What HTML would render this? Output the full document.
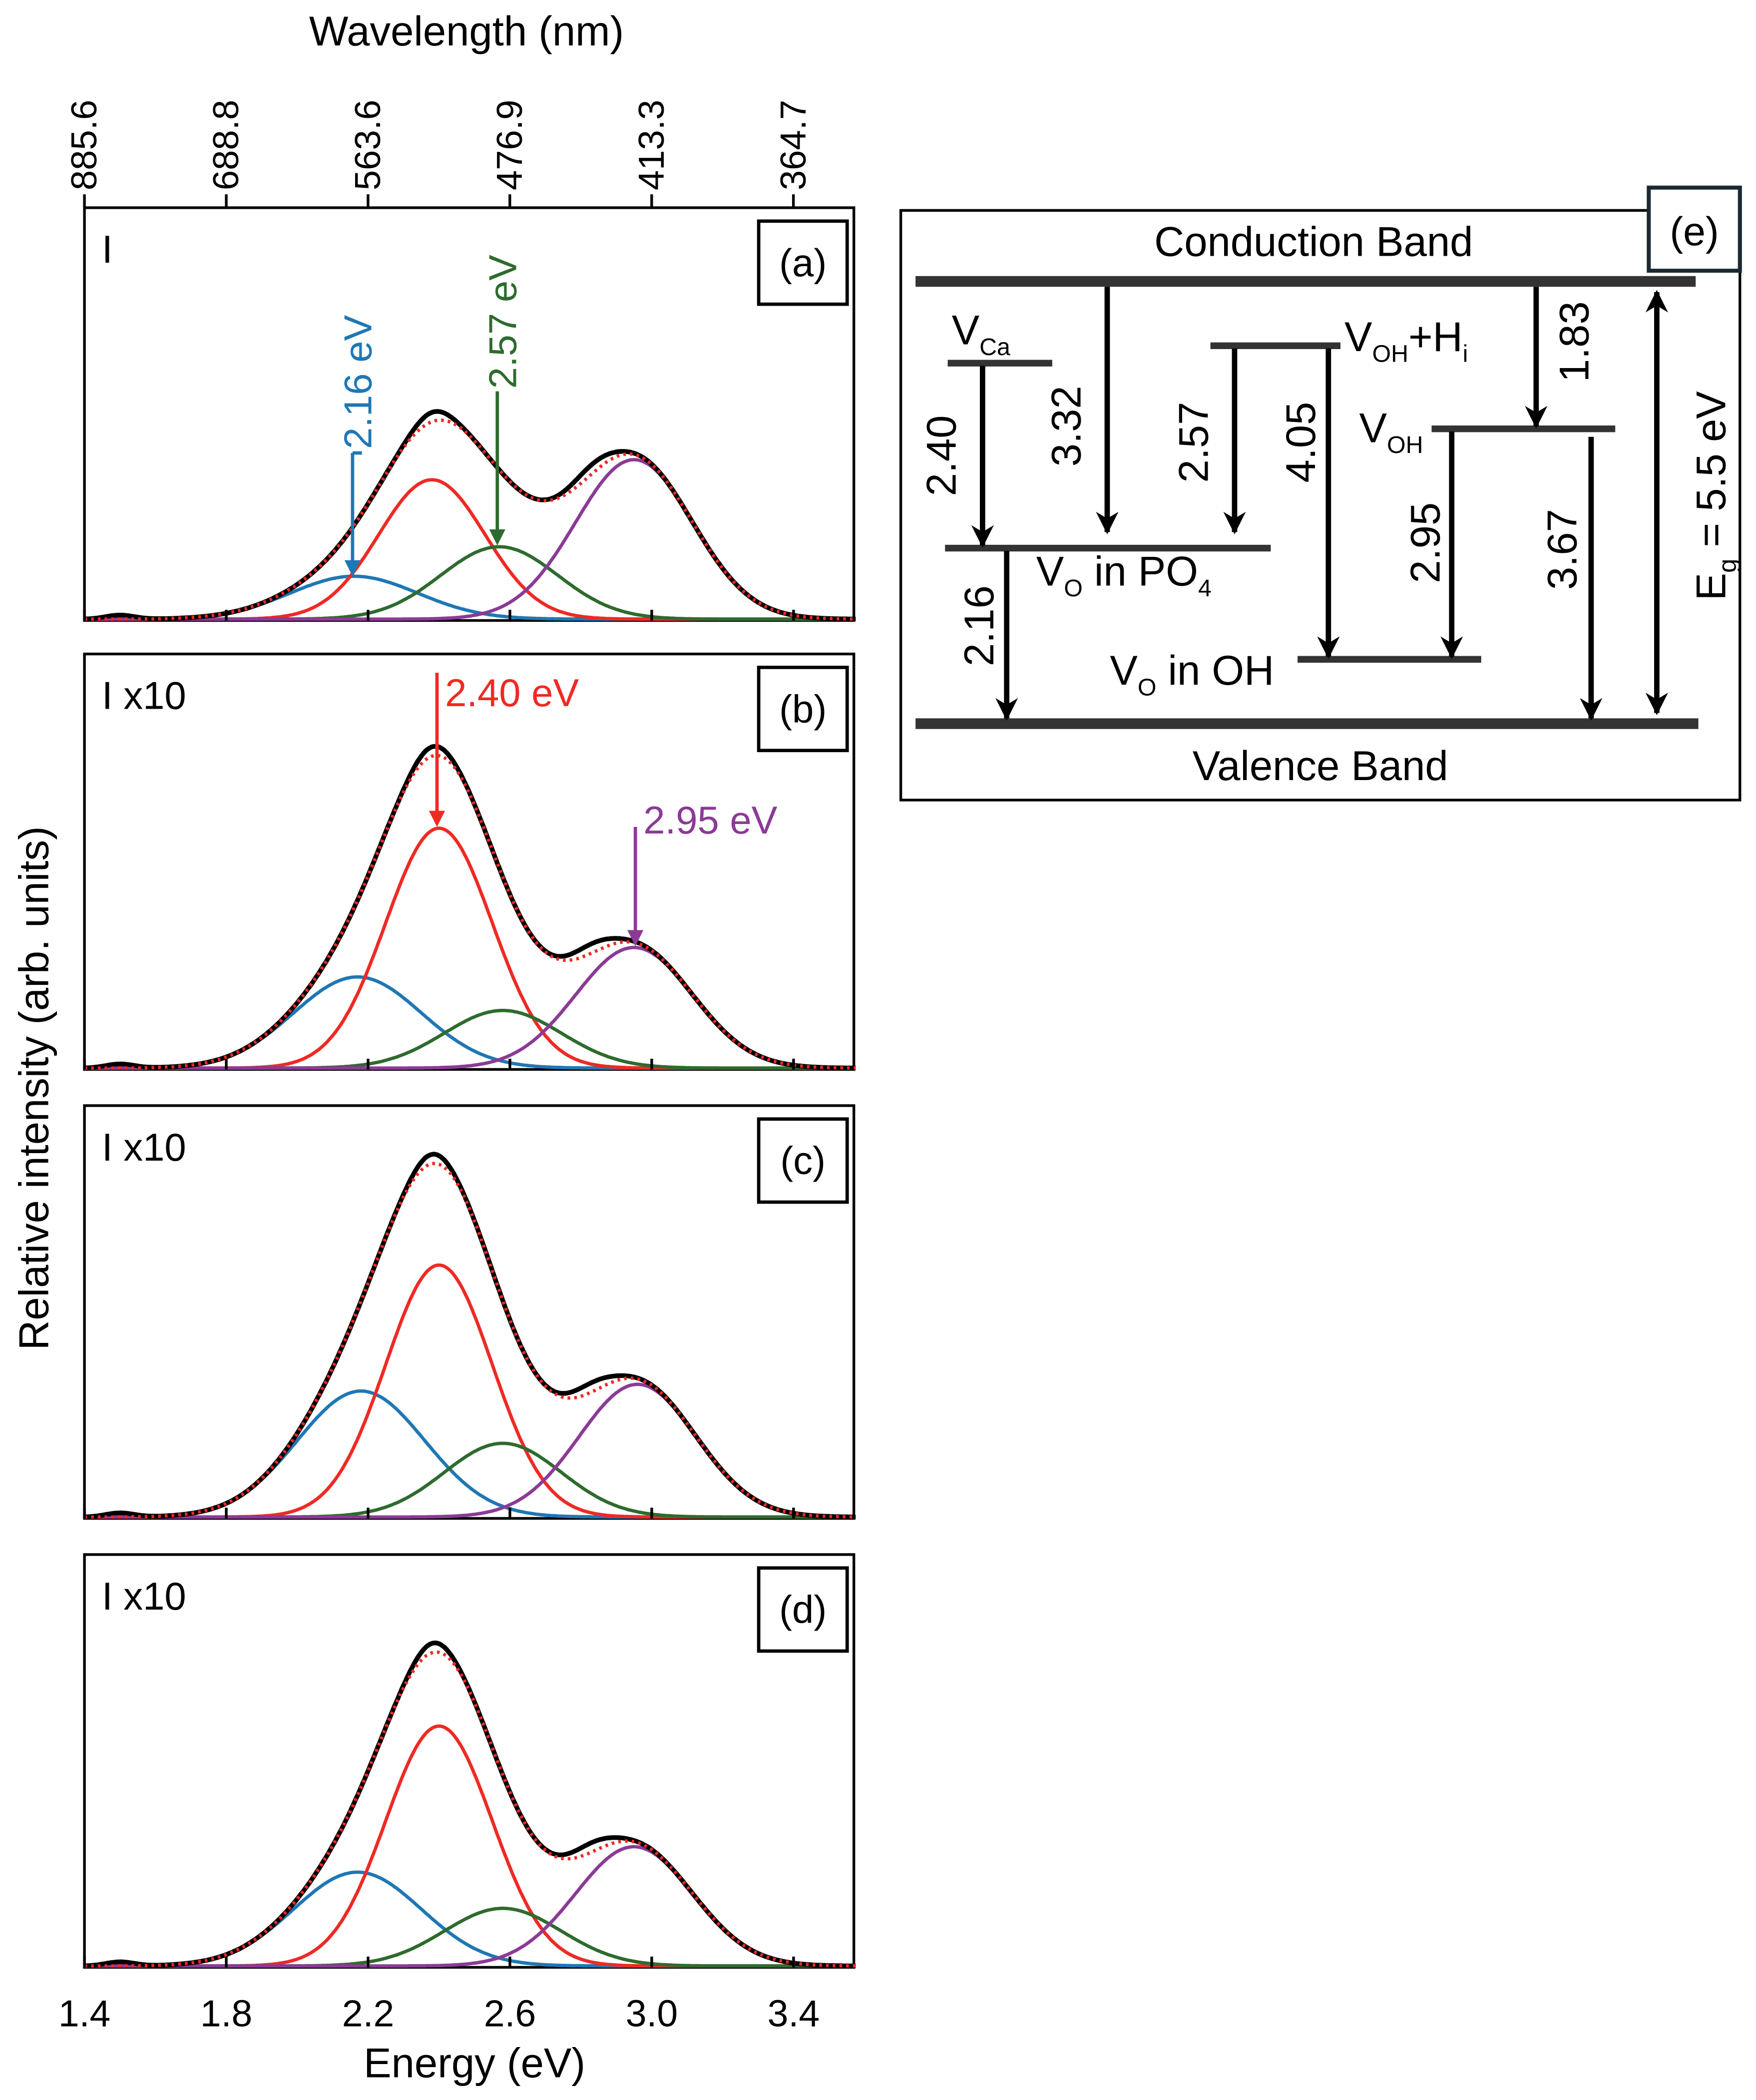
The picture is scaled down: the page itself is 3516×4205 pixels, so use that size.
<!DOCTYPE html>
<html><head><meta charset="utf-8"><style>
html,body{margin:0;padding:0;background:#fff}
svg{display:block}
text{font-family:"Liberation Sans",sans-serif}
</style></head><body>
<svg id="fig" width="3516" height="4205" viewBox="0 0 1310 1567" preserveAspectRatio="none" xmlns="http://www.w3.org/2000/svg">
<defs>
<marker id="ah" viewBox="0 0 10 10" refX="9" refY="5" markerWidth="4.2" markerHeight="4.2" orient="auto-start-reverse"><path d="M0,0 L10,5 L0,10 L3,5 z" fill="#000"/></marker>
</defs>
<g id="spectra"></g>
<g id="diagram" font-size="31">
<rect x="672" y="157" width="626" height="440" fill="none" stroke="#000" stroke-width="2"/>
<rect x="1230" y="140" width="68" height="62" fill="#fff" stroke="#1a2a33" stroke-width="3"/>
<text x="1264" y="183" text-anchor="middle" font-size="30">(e)</text>
<text x="980" y="191" text-anchor="middle">Conduction Band</text>
<text x="985" y="582" text-anchor="middle">Valence Band</text>
<g stroke="#333" fill="none">
<line x1="683" y1="210" x2="1265" y2="210" stroke-width="8"/>
<line x1="683" y1="540" x2="1267" y2="540" stroke-width="8"/>
<line x1="707" y1="271" x2="785" y2="271" stroke-width="5"/>
<line x1="705" y1="409" x2="948" y2="409" stroke-width="5"/>
<line x1="903" y1="258" x2="1000" y2="258" stroke-width="5"/>
<line x1="1068" y1="320" x2="1205" y2="320" stroke-width="5"/>
<line x1="968" y1="492" x2="1105" y2="492" stroke-width="5"/>
</g>
<g stroke="#000" stroke-width="4" marker-end="url(#ah)">
<line x1="733" y1="273" x2="733" y2="407"/>
<line x1="826" y1="214" x2="826" y2="397"/>
<line x1="921" y1="260" x2="921" y2="397"/>
<line x1="991" y1="260" x2="991" y2="490"/>
<line x1="1146" y1="214" x2="1146" y2="318"/>
<line x1="1083" y1="322" x2="1083" y2="490"/>
<line x1="1187" y1="326" x2="1187" y2="536"/>
<line x1="751" y1="411" x2="751" y2="536"/>
<line x1="1236" y1="218" x2="1236" y2="532" marker-start="url(#ah)"/>
</g>
<g font-size="31">
<text transform="translate(713,340) rotate(-90)" text-anchor="middle">2.40</text>
<text transform="translate(806,318) rotate(-90)" text-anchor="middle">3.32</text>
<text transform="translate(901,330) rotate(-90)" text-anchor="middle">2.57</text>
<text transform="translate(981,330) rotate(-90)" text-anchor="middle">4.05</text>
<text transform="translate(1185,255) rotate(-90)" text-anchor="middle">1.83</text>
<text transform="translate(1074,405) rotate(-90)" text-anchor="middle">2.95</text>
<text transform="translate(1176,410) rotate(-90)" text-anchor="middle">3.67</text>
<text transform="translate(741,467) rotate(-90)" text-anchor="middle">2.16</text>
<text transform="translate(1287,370) rotate(-90)" text-anchor="middle">E<tspan font-size="19" dy="8">g</tspan><tspan dy="-8"> = 5.5 eV</tspan></text>
<text x="710" y="257">V<tspan font-size="18" dy="8">Ca</tspan></text>
<text x="1003" y="262">V<tspan font-size="18" dy="8">OH</tspan><tspan dy="-8">+H</tspan><tspan font-size="18" dy="8">i</tspan></text>
<text x="1014" y="330">V<tspan font-size="18" dy="8">OH</tspan></text>
<text x="773" y="437">V<tspan font-size="18" dy="8">O</tspan><tspan dy="-8"> in PO</tspan><tspan font-size="18" dy="8">4</tspan></text>
<text x="828" y="511">V<tspan font-size="18" dy="8">O</tspan><tspan dy="-8"> in OH</tspan></text>
</g>
</g>
</svg>
<script>
// Axis data
const energyTicks = [1.4, 1.8, 2.2, 2.6, 3.0, 3.4];
const energyTickLabels = ["1.4", "1.8", "2.2", "2.6", "3.0", "3.4"];
const wavelengthTicks = [885.6, 688.8, 563.6, 476.9, 413.3, 364.7];
const panelIds = ["a", "b", "c", "d"];
const panelTags = ["I", "I x10", "I x10", "I x10"];
// Gaussian components per panel: centers (eV), heights (relative)
const blueCenters = [2.16, 2.17, 2.18, 2.17];
const blueHeights = [32, 68, 94, 70];
const redCenters = [2.38, 2.40, 2.40, 2.40];
const redHeights = [104, 179, 188, 179];
const greenCenters = [2.57, 2.58, 2.58, 2.58];
const greenHeights = [54, 43, 55, 43];
const purpleCenters = [2.95, 2.95, 2.96, 2.95];
const purpleHeights = [119, 90, 99, 89];
// widths (eV) per component: blue, red, green, purple
const componentSigmas = [0.18, 0.15, 0.165, 0.165];

const NS = "http://www.w3.org/2000/svg";
const g = document.getElementById("spectra");
const X0 = 63, X1 = 637;
const xE = e => 63 + (e - 1.4) * (592 - 63) / 2.0;
const panelTop = [155, 488, 825, 1160], panelBot = [463, 798, 1133, 1468];
function mk(tag, attrs, parent) { const el = document.createElementNS(NS, tag); for (const k in attrs) el.setAttribute(k, attrs[k]); (parent || g).appendChild(el); return el; }
function gauss(e, c, h, s) { return h * Math.exp(-0.5 * ((e - c) / s) ** 2); }

panelIds.forEach((id, i) => {
  const top = panelTop[i], base = panelBot[i] - 1;
  const pg = mk("g", {});
  
  
  const fr = mk("rect", { x: X0, y: top, width: X1 - X0, height: panelBot[i] - top, fill: "none", stroke: "#000", "stroke-width": 2 }, pg);
  
  
  const comps = [[blueCenters, blueHeights, "#1f77b4"], [redCenters, redHeights, "#ee2a24"], [greenCenters, greenHeights, "#2e6b2e"], [purpleCenters, purpleHeights, "#8b3a96"]];
  const names = ["blue", "red", "green", "purple"];
  const tot = [], meas = [];
  for (let e = 1.4; e <= 3.575; e += 0.005) {
    let s = 0; comps.forEach((c, k) => s += gauss(e, c[0][i], c[1][i], componentSigmas[k]));
    tot.push([xE(e), base - s]);
    let m = s + gauss(e, 1.5, 3, 0.04) + gauss(e, 2.38, 7, 0.05) + gauss(e, 2.83, 7, 0.06);
    meas.push([xE(e), base - m]);
  }
  comps.forEach((c, k) => {
    let d = "";
    for (let e = 1.4; e <= 3.575; e += 0.005) d += (d ? "L" : "M") + xE(e).toFixed(1) + "," + (base - gauss(e, c[0][i], c[1][i], componentSigmas[k])).toFixed(1);
    const p = mk("path", { d, fill: "none", stroke: c[2], "stroke-width": 2.5 }, pg);
    
    
  });
  const pm = mk("path", { d: "M" + meas.map(p => p[0].toFixed(1) + "," + p[1].toFixed(1)).join("L"), fill: "none", stroke: "#000", "stroke-width": 3.5 }, pg);
  
  
  const pf = mk("path", { d: "M" + tot.map(p => p[0].toFixed(1) + "," + p[1].toFixed(1)).join("L"), fill: "none", stroke: "#ee2a24", "stroke-width": 2.5, "stroke-dasharray": "2 3" }, pg);
  
  
  const lb = mk("rect", { x: 566, y: top + 10, width: 66, height: 62, fill: "#fff", stroke: "#000", "stroke-width": 2.5 }, pg);
  
  
  const lt = mk("text", { x: 599, y: top + 51, "text-anchor": "middle", "font-size": 29 }, pg);
  lt.textContent = "(" + id + ")";
  
  
  const tg = mk("text", { x: 76, y: top + 41, "font-size": 29 }, pg);
  tg.textContent = panelTags[i];
  
  
  energyTicks.forEach(t => {
    const tk = mk("line", { x1: xE(t), x2: xE(t), y1: panelBot[i], y2: panelBot[i] - 8, stroke: "#000", "stroke-width": 2 }, pg);
    
    
  });
});
energyTicks.forEach((t, k) => {
  const tx = mk("text", { x: xE(t), y: 1512, "text-anchor": "middle", "font-size": 28 });
  tx.textContent = energyTickLabels[k];
  
  
});
const xt = mk("text", { x: 354, y: 1550, "text-anchor": "middle", "font-size": 31 });
xt.textContent = "Energy (eV)";


const yt = mk("text", { transform: "translate(36,812) rotate(-90)", "text-anchor": "middle", "font-size": 31 });
yt.textContent = "Relative intensity (arb. units)";


wavelengthTicks.forEach(w => {
  const x = xE(1239.84 / w);
  const tk = mk("line", { x1: x, x2: x, y1: 155, y2: 145, stroke: "#000", "stroke-width": 2 });
  
  
  const tx = mk("text", { transform: "translate(" + (x + 9) + ",142) rotate(-90)", "font-size": 27 });
  tx.textContent = w.toFixed(1);
  
  
});
const wt = mk("text", { x: 348, y: 34, "text-anchor": "middle", "font-size": 31 });
wt.textContent = "Wavelength (nm)";


function ann(x, y1, y2, color, label, name, vertical, tx, ty) {
  const a = mk("g", {});
  
  
  mk("line", { x1: x, x2: x, y1, y2: y2 - 8, stroke: color, "stroke-width": 2.5 }, a);
  mk("path", { d: `M${x - 6},${y2 - 12}L${x + 6},${y2 - 12}L${x},${y2}z`, fill: color }, a);
  const t = mk("text", vertical ? { transform: `translate(${tx},${ty}) rotate(-90)`, fill: color, "font-size": 29 } : { x: tx, y: ty, fill: color, "font-size": 29 }, a);
  t.textContent = label;
}
ann(263, 338, 430, "#1f77b4", "2.16 eV", "annotation-2-16", true, 277, 335);
mk("line", { x1: 263, x2: 270, y1: 338, y2: 338, stroke: "#1f77b4", "stroke-width": 2.5 });
ann(371, 292, 407, "#2e6b2e", "2.57 eV", "annotation-2-57", true, 385, 290);
ann(326, 502, 617, "#ee2a24", "2.40 eV", "annotation-2-40", false, 332, 527);
ann(474, 617, 706, "#8b3a96", "2.95 eV", "annotation-2-95", false, 480, 622);
</script>
</body></html>
